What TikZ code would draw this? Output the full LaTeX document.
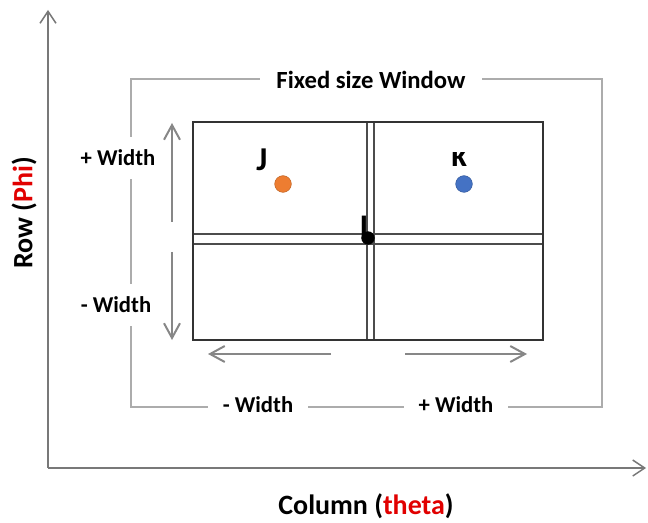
\documentclass[tikz,border=0pt]{standalone}
\usepackage{fontspec}
\setmainfont{Carlito}
\usetikzlibrary{arrows.meta}
\definecolor{brk}{RGB}{172,172,172}
\definecolor{axc}{RGB}{120,120,120}
\definecolor{arc}{RGB}{135,135,135}
\definecolor{dotor}{RGB}{237,125,49}
\definecolor{dotbl}{RGB}{68,114,196}
\definecolor{redt}{RGB}{225,0,0}
\tikzset{
  bracket/.style={draw=brk, line width=2.2pt},
  lbl/.style={fill=white, font=\bfseries\fontsize{17}{20}\selectfont, inner xsep=11pt, inner ysep=0pt, minimum height=31pt},
  axis/.style={draw=axc, line width=1.1pt, -{Straight Barb[length=9pt,width=12pt,line width=1.1pt]}},
  warrow/.style={draw=arc, line width=1.5pt, -{Straight Barb[length=11pt,width=12pt,line width=1.5pt]}},
  axlbl/.style={font=\bfseries\fontsize{21}{24}\selectfont, inner sep=0pt},
  pt/.style={font=\bfseries\fontsize{25}{28}\selectfont, inner sep=0pt},
  gridl/.style={draw=black!70, line width=1pt},
  dot/.style={circle, inner sep=0pt, minimum size=12.5pt, draw=#1!80!black, line width=0.4pt, fill=#1}
}
\begin{document}
\begin{tikzpicture}[x=0.75pt, y=-0.75pt]
\useasboundingbox (0,0) rectangle (648,523);
% axes
\coordinate (o) at (48,468);
\coordinate (ytop) at (48,10);
\coordinate (xend) at (646,468);
\draw[axis] (o) -- (ytop);
\draw[axis] (o) -- (xend);
% bracket
\coordinate (btl) at (131,79);
\coordinate (btr) at (602,79);
\coordinate (bbl) at (131,407);
\coordinate (bbr) at (602,407);
\draw[bracket] (btl) -- (btr) -- (bbr) -- (bbl) -- cycle;
\node[lbl, font=\bfseries\fontsize{18.5}{22}\selectfont, inner xsep=12pt] (title) at (371,80) {Fixed size Window};
\node[lbl, inner xsep=1pt] (lp) at (118,158) {+ Width};
\node[lbl, inner xsep=1pt] (lm) at (116,305) {- Width};
\node[lbl] (bm) at (258,405) {- Width};
\node[lbl] (bp) at (456,405) {+ Width};
% inner box
\coordinate (ib1) at (193,122);
\coordinate (ib2) at (543,340);
\draw[gridl] (367,122) -- (367,340);
\draw[gridl] (374,122) -- (374,340);
\draw[gridl] (193,234) -- (543,234);
\draw[gridl] (193,244) -- (543,244);
\draw[draw=black!80, line width=1.7pt] (ib1) rectangle (ib2);
% side arrows
\coordinate (va1) at (172,222);
\coordinate (va2) at (172,123);
\coordinate (vb1) at (172,252);
\coordinate (vb2) at (172,340);
\draw[warrow] (va1) -- (va2);
\draw[warrow] (vb1) -- (vb2);
\coordinate (ha1) at (331,354);
\coordinate (ha2) at (208,354);
\coordinate (hb1) at (405,354);
\coordinate (hb2) at (527,354);
\draw[warrow] (ha1) -- (ha2);
\draw[warrow] (hb1) -- (hb2);
% points
\node[dot=dotor] (dj) at (283,184) {};
\node[dot=dotbl] (dk) at (464,184) {};
\node[pt] (J) at (262,160) {J};
\begin{scope}
\clip (440,153) rectangle (480,175);
\node[pt, anchor=base] (K) at (459,167) {k};
\end{scope}
\node[pt, anchor=base] (L) at (364,240) {l};
\node[circle, fill=black, inner sep=0pt, minimum size=10pt] (dl) at (368,238) {};
% axis labels
\node[axlbl, rotate=90] (rowl) at (24,213) {Row (\textcolor{redt}{Phi})};
\node[axlbl] (coll) at (366,506) {Column (\textcolor{redt}{theta})};
\end{tikzpicture}
\end{document}
